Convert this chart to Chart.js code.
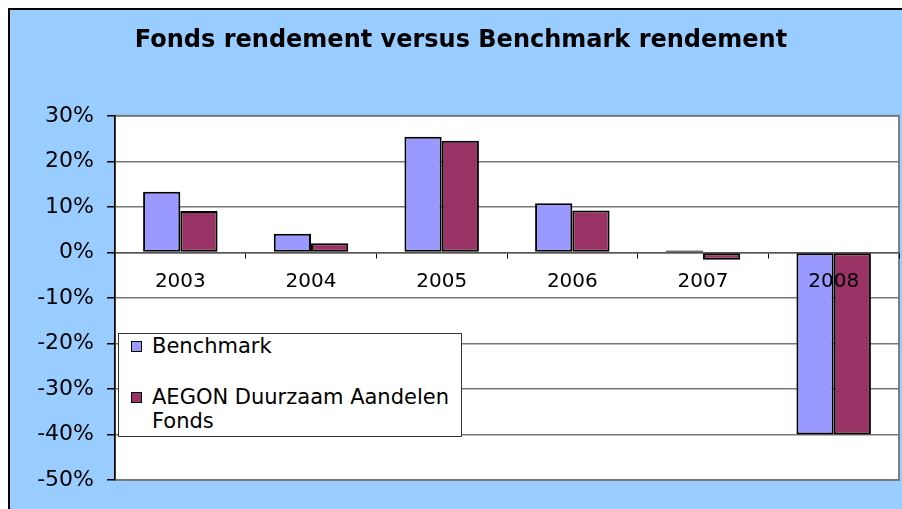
<!DOCTYPE html>
<html>
<head>
<meta charset="utf-8">
<script src="https://cdn.jsdelivr.net/npm/chart.js@4/dist/chart.umd.min.js"></script>
<style>
  html, body { margin: 0; padding: 0; background: #fff; overflow: hidden; }
  body { width: 902px; height: 509px; position: relative; }
  #rand { position: absolute; left: 8px; top: 8px; width: 894px; height: 501px; background: #000; }
  #achtergrond { position: absolute; left: 10px; top: 10px; width: 892px; height: 499px; background: #99ccff; }
  #grafiek { position: absolute; left: 0; top: 0; }
  #legende { position: absolute; left: 118px; top: 333px; width: 342px; height: 102px;
             border: 1px solid #333; background: #fff; font-family: "DejaVu Sans"; font-size: 21px;
             line-height: 24px; color: #000; }
  .item { position: relative; padding-left: 33px; padding-right: 4px; }
  .item + .item { margin-top: 27px; }
  .carre { position: absolute; left: 12px; top: 7px; width: 9px; height: 9px; border: 1.5px solid #000; }
</style>
</head>
<body>
<div id="rand"></div>
<div id="achtergrond"></div>
<canvas id="grafiek" width="902" height="509"></canvas>
<div id="legende"></div>
<script>
// Data
const jaren = ['2003', '2004', '2005', '2006', '2007', '2008'];
const benchmark = [13.3, 4.1, 25.4, 10.8, 0.4, -40.0];
const fonds = [9.1, 2.0, 24.5, 9.2, -1.6, -40.0];
const reeksNamen = ['Benchmark', 'AEGON Duurzaam Aandelen Fonds'];
const kleuren = ['#9999ff', '#993366'];
const yMin = -50, yMax = 30, yStap = 10;

// Witte plotvlak + grijze rand
const plotVlak = {
    id: 'plotVlak',
    beforeDraw(chart) {
        const ca = chart.chartArea;
        const ctx = chart.ctx;
        ctx.save();
        ctx.fillStyle = '#fff';
        ctx.fillRect(ca.left, ca.top, ca.right - ca.left, ca.bottom - ca.top);
        ctx.strokeStyle = '#808080';
        ctx.lineWidth = 2;
        ctx.strokeRect(ca.left, ca.top, ca.right - ca.left, ca.bottom - ca.top);
        ctx.restore();
    }
};

// Legende in html
function maakLegende(chart) {
    var html = '';
    chart.data.datasets.forEach(function (ds) {
        html += '<div class="item"><span class="carre" style="background:' + ds.backgroundColor + '"></span>' + ds.label + '</div>';
    });
    document.getElementById('legende').innerHTML = html;
}

const config = {
    type: 'bar',
    data: {
        labels: jaren,
        datasets: [
            { label: reeksNamen[0], data: benchmark, backgroundColor: kleuren[0] },
            { label: reeksNamen[1], data: fonds, backgroundColor: kleuren[1] }
        ]
    },
    options: {
        responsive: false,
        animation: false,
        layout: { padding: { top: 0, left: 23, right: 3, bottom: 29 } },
        datasets: {
            bar: {
                borderColor: '#000',
                borderWidth: 2,
                borderSkipped: false,
                categoryPercentage: 0.57,
                barPercentage: 1
            }
        },
        plugins: {
            legend: { display: false },
            tooltip: { enabled: false },
            title: {
                display: true,
                text: 'Fonds rendement versus Benchmark rendement',
                color: '#000',
                font: { family: 'DejaVu Sans', size: 24, weight: 'bold' },
                padding: { top: 26, bottom: 61 }
            }
        },
        scales: {
            x: {
                position: { y: 0 },
                offset: true,
                grid: { drawOnChartArea: false, offset: true, tickLength: 5, tickColor: '#000' },
                border: { display: true, color: '#555', width: 1.5 },
                ticks: { color: '#000', padding: 12, z: 1, font: { family: 'DejaVu Sans', size: 20 } }
            },
            y: {
                min: yMin,
                max: yMax,
                afterFit: function (s) { s.width = 92; },
                grid: { color: '#777', lineWidth: 1.5, tickLength: 8, tickColor: '#000' },
                border: { color: '#000', width: 1.5 },
                ticks: {
                    stepSize: yStap,
                    color: '#000',
                    padding: 13,
                    font: { family: 'DejaVu Sans', size: 22 },
                    callback: function (v) { return v + '%'; }
                }
            }
        }
    },
    plugins: [plotVlak]
};

window.onload = function () {
    var ctx = document.getElementById('grafiek').getContext('2d');
    var grafiek = new Chart(ctx, config);
    maakLegende(grafiek);
};
</script>
</body>
</html>
